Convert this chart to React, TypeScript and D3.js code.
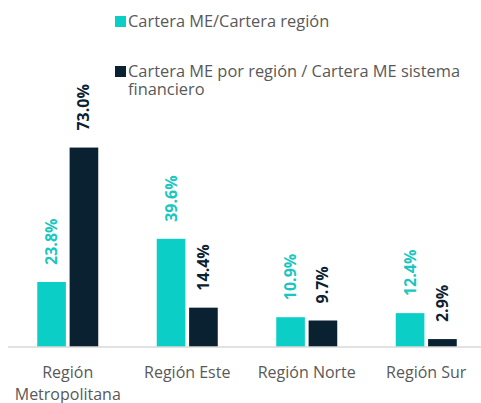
import React from "react";
import * as d3 from "d3";

const categories: string[][] = [["Región", "Metropolitana"], ["Región Este"], ["Región Norte"], ["Región Sur"]];
const seriesNames: string[][] = [["Cartera ME/Cartera región"], ["Cartera ME por región / Cartera ME sistema", "financiero"]];
const seriesA: number[] = [23.8, 39.6, 10.9, 12.4];
const seriesB: number[] = [73.0, 14.4, 9.7, 2.9];
const colors = ["#0BCFC7", "#0A2132"];
const labelColors = ["#19C6C0", "#0A2132"];

export default function App() {
  const W = 481, H = 403;
  const baseY = 347;
  const x = d3.scaleBand<number>().domain(d3.range(categories.length)).range([8, 486]).padding(0);
  const groupW = 61;
  const inner = d3.scaleBand<number>().domain([0, 1]).range([0, groupW]).paddingInner(0.115);
  const y = d3.scaleLinear().domain([0, 80]).range([baseY, baseY - 80 * 2.732]);
  const series = [seriesA, seriesB];
  const font = "'Open Sans', sans-serif";
  return (
    <svg width={W} height={H} style={{ position: "absolute", left: 0, top: 0 }} fontFamily={font}>
      {/* legend */}
      <g>
        <rect x={115} y={16} width={11} height={11} fill={colors[0]} />
        <text x={128} y={26.5} fontSize={16.4} fill="#595959">{seriesNames[0][0]}</text>
        <rect x={115} y={66} width={11} height={11} fill={colors[1]} />
        <text x={128} y={77} fontSize={16.4} fill="#595959">
          <tspan x={128}>{seriesNames[1][0]}</tspan>
          <tspan x={128} dy={17.5}>{seriesNames[1][1]}</tspan>
        </text>
      </g>
      {categories.map((c, i) => {
        const cx = (x(i) as number) + x.bandwidth() / 2;
        const gx = cx - groupW / 2;
        return (
          <g key={i}>
            {series.map((s, k) => {
              const bx = gx + (inner(k) as number);
              const bw = inner.bandwidth();
              const top = y(s[i]);
              const lx = bx + bw / 2;
              const ly = top - 17;
              return (
                <g key={k}>
                  <rect x={bx} y={top} width={bw} height={baseY - top} fill={colors[k]} />
                  <text
                    transform={`translate(${lx + 5.5},${ly}) rotate(-90)`}
                    fontSize={16}
                    fontWeight="bold"
                    fill={labelColors[k]}
                  >
                    {s[i].toFixed(1) + "%"}
                  </text>
                </g>
              );
            })}
            <text textAnchor="middle" fontSize={16} fill="#595959">
              {c.map((line, j) => (
                <tspan key={j} x={cx} y={377.5 + j * 22.5}>{line}</tspan>
              ))}
            </text>
          </g>
        );
      })}
      <line x1={8} x2={481} y1={baseY} y2={baseY} stroke="#D9D9D9" strokeWidth={1.5} />
    </svg>
  );
}
